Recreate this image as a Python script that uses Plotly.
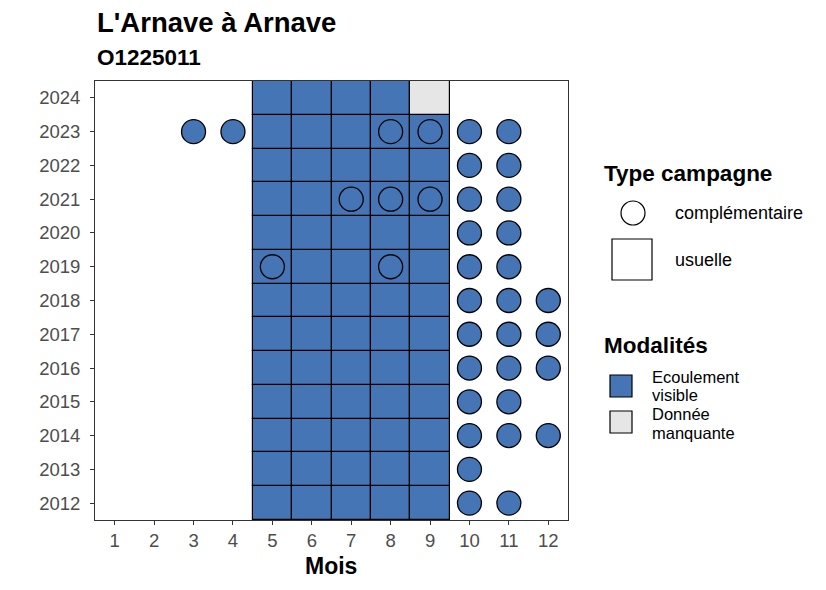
import plotly.graph_objects as go

# données
years = list(range(2012, 2025))
usual_months = [5, 6, 7, 8, 9]
missing_cells = [(9, 2024)]  # (mois, année) donnée manquante

comp_months = {
    2023: [3, 4, 8, 9, 10, 11],
    2022: [10, 11],
    2021: [7, 8, 9, 10, 11],
    2020: [10, 11],
    2019: [5, 8, 10, 11],
    2018: [10, 11, 12],
    2017: [10, 11, 12],
    2016: [10, 11, 12],
    2015: [10, 11],
    2014: [10, 11, 12],
    2013: [10],
    2012: [10, 11],
}

month_ticks = list(range(1, 13))

BLUE = "#4575B4"
GREY = "#E6E6E6"
FONT = "Liberation Sans, Arial, sans-serif"

# la page a une marge de 8px : la figure couvre 8..818 x 8..582
OFF = 8
W, H = 810, 574
L, R, T, B = 95, 568, 81, 520  # cadre du panneau dans la capture


def px(x):
    return (x - L) / (R - L)


def py(y):
    return (B - y) / (B - T)


# tuiles usuelles
tx, tbase, tcol = [], [], []
for yr in years:
    for m in usual_months:
        tx.append(m)
        tbase.append(yr - 0.5)
        tcol.append(GREY if (m, yr) in missing_cells else BLUE)

fig = go.Figure()
fig.add_trace(go.Bar(
    x=tx, y=[1] * len(tx), base=tbase, width=1,
    marker=dict(color=tcol, line=dict(color="black", width=1.2)),
    showlegend=False, hoverinfo="skip",
))

cx, cy = [], []
for yr, ms in comp_months.items():
    for m in ms:
        cx.append(m)
        cy.append(yr)

fig.add_trace(go.Scatter(
    x=cx, y=cy, mode="markers",
    marker=dict(size=24, color=BLUE, line=dict(color="black", width=1.3)),
    showlegend=False,
))

axis_style = dict(
    showgrid=False, zeroline=False, showline=True, mirror=True,
    linecolor="#333333", linewidth=1, ticks="outside", ticklen=4,
    tickcolor="#333333", tickfont=dict(size=18.5, color="#4D4D4D"),
)

fig.update_layout(
    width=W, height=H,
    margin=dict(l=L - OFF, r=OFF + W - R, t=T - OFF, b=OFF + H - B, pad=0),
    plot_bgcolor="white", paper_bgcolor="white",
    barmode="overlay", bargap=0,
    font=dict(family=FONT, color="black"),
    xaxis=dict(range=[0.5, 12.5], tickvals=month_ticks,
               ticktext=[str(m) for m in month_ticks], **axis_style),
    yaxis=dict(range=[2011.5, 2024.5], tickvals=years,
               ticktext=[str(y) for y in years], ticklabelstandoff=6,
               **axis_style),
)

ann = [
    dict(x=95, y=22, text="<b>L'Arnave à Arnave</b>", size=27.5, xa="left"),
    dict(x=95, y=58, text="<b>O1225011</b>", size=22.5, xa="left"),
    dict(x=331, y=566, text="<b>Mois</b>", size=23, xa="center"),
    dict(x=602, y=173, text="<b>Type campagne</b>", size=22.5, xa="left"),
    dict(x=673, y=213, text="complémentaire", size=18, xa="left"),
    dict(x=673, y=260, text="usuelle", size=18, xa="left"),
    dict(x=602, y=345, text="<b>Modalités</b>", size=22.5, xa="left"),
    dict(x=650, y=377, text="Ecoulement", size=16.5, xa="left"),
    dict(x=650, y=395, text="visible", size=16.5, xa="left"),
    dict(x=650, y=414, text="Donnée", size=16.5, xa="left"),
    dict(x=650, y=433, text="manquante", size=16.5, xa="left"),
]
for a in ann:
    fig.add_annotation(
        x=px(a["x"]), y=py(a["y"]), xref="paper", yref="paper", text=a["text"],
        showarrow=False, xanchor=a["xa"], yanchor="middle", align="left",
        font=dict(size=a["size"], family=FONT, color="black"),
    )

shapes = [
    dict(type="circle", x0=621, x1=645, y0=225, y1=201, fill="white"),
    dict(type="rect", x0=612, x1=652, y0=280, y1=239, fill="white"),
    dict(type="rect", x0=610, x1=632, y0=397, y1=375, fill=BLUE),
    dict(type="rect", x0=610, x1=632, y0=433, y1=411, fill=GREY),
]
for s in shapes:
    fig.add_shape(
        type=s["type"], xref="paper", yref="paper",
        x0=px(s["x0"]), x1=px(s["x1"]), y0=py(s["y0"]), y1=py(s["y1"]),
        fillcolor=s["fill"], line=dict(color="black", width=1.2),
    )

fig.write_html("out.html")
